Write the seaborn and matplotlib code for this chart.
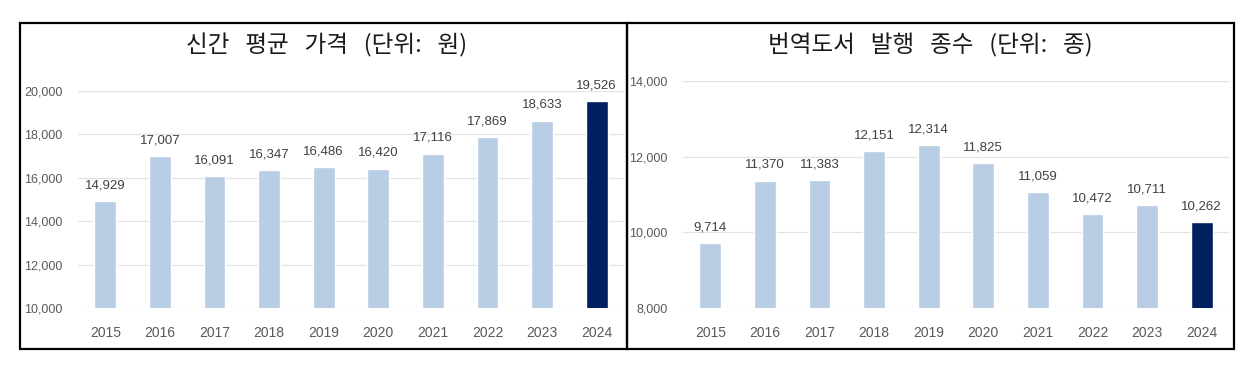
#!/usr/bin/env python3
"""Two bar panels: average new-book price and translated titles, 2015-2024."""

import matplotlib

matplotlib.use("Agg")
import matplotlib.pyplot as plt
from matplotlib.patches import Rectangle
import seaborn as sns

years = ["2015", "2016", "2017", "2018", "2019", "2020", "2021", "2022", "2023", "2024"]
avg_price = [14929, 17007, 16091, 16347, 16486, 16420, 17116, 17869, 18633, 19526]
translated_titles = [9714, 11370, 11383, 12151, 12314, 11825, 11059, 10472, 10711, 10262]

price_title = "신간   평균   가격   (단위:   원)"
titles_title = "번역도서   발행   종수   (단위:   종)"

LIGHT = "#b9cde5"
DARK = "#002060"
GRID = "#e3e3e3"
TICK = "#595959"
LABEL = "#404040"

sns.set_theme(style="white")
plt.rcParams["font.family"] = ["Liberation Sans", "Noto Sans CJK KR", "DejaVu Sans"]


def draw_panel(ax, values, ylim, step):
    colors = [LIGHT] * (len(years) - 1) + [DARK]
    sns.barplot(x=years, y=values, hue=years, palette=colors, legend=False,
                width=0.4, ax=ax, saturation=1)
    ax.set_ylim(*ylim)
    ax.set_xlim(-0.5, len(years) - 0.5)
    ticks = list(range(ylim[0], ylim[1] + 1, step))
    ax.set_yticks(ticks)
    ax.set_yticklabels([f"{t:,}" for t in ticks], fontsize=9, color=TICK)
    ax.tick_params(axis="x", labelsize=10, labelcolor=TICK, length=0, pad=13)
    ax.tick_params(axis="y", length=0, pad=11)
    for t in ticks:
        ax.axhline(t, color=GRID, lw=0.9, zorder=0)
    for i, v in enumerate(values):
        ax.annotate(f"{v:,}", (i, v), xytext=(0, 7), textcoords="offset points",
                    ha="center", va="bottom", fontsize=9.5, color=LABEL,
                    annotation_clip=False)
    for s in ax.spines.values():
        s.set_visible(False)
    ax.set_xlabel("")
    ax.set_ylabel("")


fig = plt.figure(figsize=(12.58, 3.73), dpi=100)
W, H = 1258, 373

ax1 = fig.add_axes([78 / W, 1 - 308 / H, 546 / W, 217 / H])
draw_panel(ax1, avg_price, (10000, 20000), 2000)

ax2 = fig.add_axes([683 / W, 1 - 308 / H, 546 / W, 227 / H])
draw_panel(ax2, translated_titles, (8000, 14000), 2000)

# panel frames
for x0, x1 in [(20, 627), (627, 1234)]:
    fig.patches.append(Rectangle((x0 / W, 1 - 349 / H), (x1 - x0) / W, 326 / H,
                                 transform=fig.transFigure, fill=False,
                                 edgecolor="black", lw=1.6))

title_font = ["Noto Sans CJK KR", "DejaVu Sans"]
fig.text(327 / W, 1 - 45 / H, price_title, ha="center", va="center",
         fontsize=17, family=title_font, color="#1a1a1a")
fig.text(930 / W, 1 - 45 / H, titles_title, ha="center", va="center",
         fontsize=17, family=title_font, color="#1a1a1a")

fig.savefig("out.png", dpi=100)
